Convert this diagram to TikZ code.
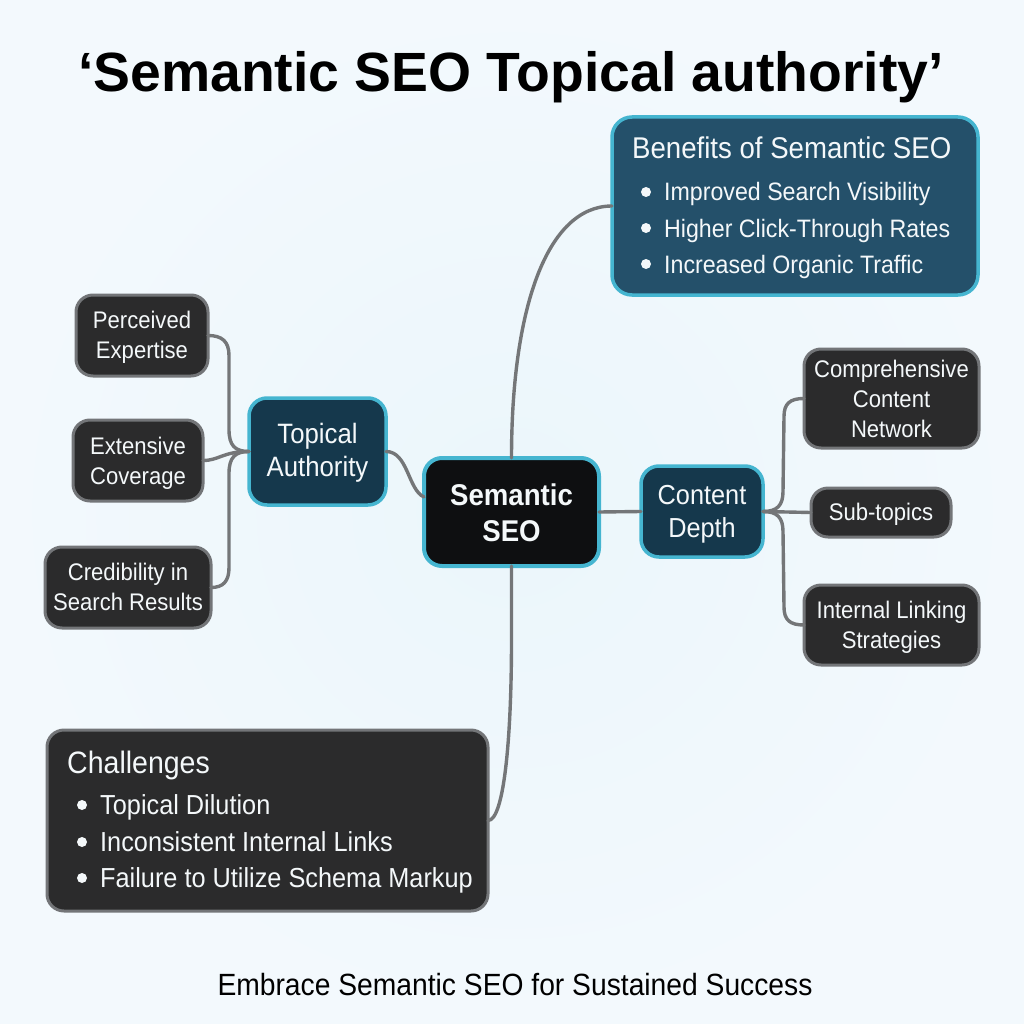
\documentclass[tikz,border=0pt]{standalone}
\usepackage{fontspec}
\setmainfont[FakeStretch=0.92]{Liberation Sans}
\newfontfamily\titlefont{Liberation Sans}
\usetikzlibrary{calc,shadings}
\definecolor{bgc}{HTML}{EBF6FB}
\definecolor{bgedge}{HTML}{F3F9FD}
\definecolor{tealfill}{HTML}{24506A}
\definecolor{navyfill}{HTML}{15384C}
\definecolor{blackfill}{HTML}{0E0F11}
\definecolor{darkfill}{HTML}{2B2B2C}
\definecolor{cyanedge}{HTML}{45B5D0}
\definecolor{greyedge}{HTML}{737578}
\definecolor{linkc}{HTML}{747678}
\definecolor{textw}{HTML}{F4F8FA}
\tikzset{
  x=1pt,y=-1pt,
  box/.style={rounded corners=#1,draw,line width=3pt,outer sep=0pt,inner sep=0pt,align=center,text=textw},
  box/.default=17pt,
  grey/.style={box,fill=darkfill,draw=greyedge,font=\fontsize{24}{30}\selectfont},
  navy/.style={box=18pt,fill=navyfill,draw=cyanedge,line width=3.5pt,font=\fontsize{28}{33}\selectfont},
  lead/.style={box=18pt,fill=blackfill,draw=cyanedge,line width=4pt,font=\fontsize{30}{36}\selectfont\bfseries},
  panelhead/.style={anchor=base west,inner sep=0pt,text=textw,font=\fontsize{30}{36}\selectfont},
  paneltext/.style={anchor=base west,inner sep=0pt,text=textw,font=\fontsize{25.2}{30}\selectfont},
  chaltext/.style={paneltext,font=\fontsize{27.5}{30}\selectfont},
  dot/.style={circle,fill=textw,minimum size=10pt,inner sep=0pt},
  link/.style={draw=linkc,line width=3.4pt,line cap=round},
}
\begin{document}
\begin{tikzpicture}
\useasboundingbox (0,0) rectangle (1024,1024);
\shade[inner color=bgc,outer color=bgedge] (0,0) rectangle (1024,1024);

\node[anchor=base,inner sep=0pt,text=black,font=\fontsize{55.3}{60}\selectfont\titlefont\bfseries] (title) at (511,92) {‘Semantic SEO Topical authority’};
\node[anchor=base,inner sep=0pt,text=black,font=\fontsize{30.7}{36}\selectfont] (footer) at (515,995) {Embrace Semantic SEO for Sustained Success};

\coordinate (ltrunk) at (229,451.5);
\coordinate (rtrunk) at (783,511.5);

% boxes
\node[box=20pt,fill=tealfill,draw=cyanedge,line width=3.5pt,minimum width=366pt,minimum height=178pt] (benefits) at (795,206) {};
\node[panelhead] (bhead) at (632,159) {Benefits of Semantic SEO};
\node[dot] (b1) at (646,192) {}; \node[paneltext] (bt1) at (664,201) {Improved Search Visibility};
\node[dot] (b2) at (646,228) {}; \node[paneltext] (bt2) at (664,237) {Higher Click-Through Rates};
\node[dot] (b3) at (646,264) {}; \node[paneltext] (bt3) at (664,273) {Increased Organic Traffic};

\node[grey,minimum width=132pt,minimum height=81pt] (perc) at (142,335.5) {Perceived\\Expertise\\[-28pt]};
\node[grey,minimum width=130pt,minimum height=81pt] (ext) at (138,460.5) {Extensive\\Coverage\\[-30pt]};
\node[grey,minimum width=166pt,minimum height=81pt] (cred) at (128,587.5) {Credibility in\\Search Results\\[-28pt]};
\node[navy,minimum width=137pt,minimum height=107pt] (topical) at (317.5,451.5) {Topical\\Authority\\[-29pt]};
\node[lead,minimum width=175pt,minimum height=108pt] (sem) at (511.5,512) {Semantic\\SEO\\[-38pt]};
\node[navy,minimum width=122pt,minimum height=91pt,font=\fontsize{27.5}{33}\selectfont] (depth) at (702,511.5) {Content\\Depth\\[-33pt]};
\node[grey,minimum width=175pt,minimum height=99pt] (comp) at (891.5,398.5) {Comprehensive\\Content\\Network};
\node[grey,minimum width=140pt,minimum height=49pt] (sub) at (881,512.5) {Sub-topics\\[-28pt]};
\node[grey,minimum width=175pt,minimum height=80pt] (intl) at (891.5,625) {Internal Linking\\Strategies\\[-30pt]};

\node[box=17pt,fill=darkfill,draw=greyedge,minimum width=441pt,minimum height=181pt] (chal) at (267.5,820.5) {};
\node[panelhead,font=\fontsize{31}{36}\selectfont] (chead) at (67,773) {Challenges};
\node[dot] (c1) at (82,805) {}; \node[chaltext] (ct1) at (100,814) {Topical Dilution};
\node[dot] (c2) at (82,842) {}; \node[chaltext] (ct2) at (100,851) {Inconsistent Internal Links};
\node[dot] (c3) at (82,878) {}; \node[chaltext] (ct3) at (100,887) {Failure to Utilize Schema Markup};

% connectors: the ends meet the box edges
\begin{scope}[link]
\path[draw] (perc.east) .. controls ($(perc.east)+(14,0)$) and ($(perc.east)+(21,6)$) .. ($(perc.east)+(21,20)$)
  -- ($(ltrunk)+(0,-22)$) .. controls ($(ltrunk)+(0,-6)$) and ($(ltrunk)+(6,0)$) .. (topical.west);
\path[draw] (ext.east) .. controls ($(ext.east)+(16,0)$) and ($(topical.west)+(-26,0)$) .. (topical.west);
\path[draw] (cred.east) .. controls ($(cred.east)+(12,0)$) and ($(cred.east)+(18,-6)$) .. ($(cred.east)+(18,-20)$)
  -- ($(ltrunk)+(0,22)$) .. controls ($(ltrunk)+(0,6)$) and ($(ltrunk)+(6,0)$) .. (topical.west);
\path[draw] (topical.east) .. controls ($(topical.east)+(22,0)$) and ($(sem.west)+(-16,-22)$) .. ($(sem.west)+(0,-15)$);
\path[draw] (sem.north) .. controls ($(sem.north)+(0,-150)$) and ($(benefits.west)+(-65,0)$) .. (benefits.west);
\path[draw] (sem.south) -- ($(sem.south)+(0,73)$) .. controls ($(sem.south)+(0,173)$) and ($(chal.east)+(16,0)$) .. (chal.east);
\path[draw] (sem.east) -- (depth.west);
\path[draw] (depth.east) -- (sub.west);
\path[draw] (comp.west) .. controls ($(comp.west)+(-14,0)$) and ($(comp.west)+(-20,5)$) .. ($(comp.west)+(-20,18)$)
  -- ($(rtrunk)+(0,-20)$) .. controls ($(rtrunk)+(0,-6)$) and ($(rtrunk)+(-6,0)$) .. (depth.east);
\path[draw] (intl.west) .. controls ($(intl.west)+(-14,0)$) and ($(intl.west)+(-20,-5)$) .. ($(intl.west)+(-20,-18)$)
  -- ($(rtrunk)+(0,20)$) .. controls ($(rtrunk)+(0,6)$) and ($(rtrunk)+(-6,0)$) .. (depth.east);
\end{scope}
\end{tikzpicture}
\end{document}
